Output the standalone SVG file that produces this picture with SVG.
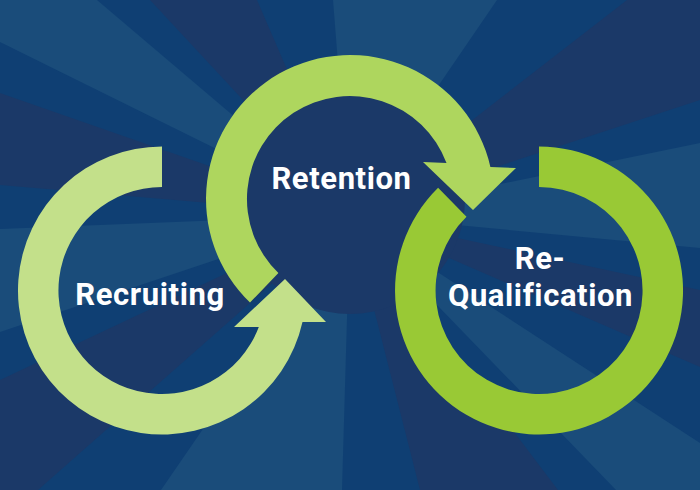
<svg xmlns="http://www.w3.org/2000/svg" width="700" height="490" viewBox="0 0 700 490">
  <style>
    .L { fill: #1a4c7a; }
    .D { fill: #1b3968; }
    .label { fill: #ffffff; font-family: Roboto, "Liberation Sans", sans-serif; font-weight: 700; font-size: 31px; letter-spacing: 0.6px; text-anchor: middle; }
  </style>
  <g id="background">
    <rect x="0" y="0" width="700" height="490" fill="#0f3f73"/>
    <polygon class="D" points="350,215 150,0 257,0"/>
    <polygon class="L" points="350,215 333,0 497,0"/>
    <polygon class="D" points="350,215 627,0 700,0 700,100"/>
    <polygon class="L" points="350,215 700,143 700,248"/>
    <polygon class="D" points="350,215 700,290 700,367"/>
    <polygon class="L" points="350,215 700,443 700,490 616,490"/>
    <polygon class="D" points="350,215 558,490 420,490"/>
    <polygon class="L" points="350,215 342,490 161,490"/>
    <polygon class="D" points="350,215 38,490 0,490 0,380"/>
    <polygon class="L" points="350,215 0,332 0,229"/>
    <polygon class="D" points="350,215 0,185 0,93"/>
    <polygon class="L" points="350,215 0,42 0,0 97,0"/>
    <circle class="D" cx="350" cy="199" r="115"/>
  </g>
  <g id="node-recruiting">
    <path fill="#c3e08a" d="M 162 146.5 A 144 144 0 1 0 302.5 322 L 326 322 L 285 279 L 234 327 L 258.8 327 A 103.5 103.5 0 1 1 162 187 Z"/>
    <text class="label" x="150" y="305">Recruiting</text>
  </g>
  <g id="node-retention">
    <path fill="#aed65e" d="M 250 302.6 A 144 144 0 1 1 490.4 166.9 L 516 168 L 473 210 L 423 162 L 446.5 163.1 A 103 103 0 1 0 278.4 273.1 Z"/>
    <text class="label" x="341.5" y="189">Retention</text>
  </g>
  <g id="node-requalification">
    <path fill="#99c935" d="M 539 146.5 A 144 144 0 1 1 438.1 187.8 L 466.5 216.7 A 103.5 103.5 0 1 0 539 187 Z"/>
    <text class="label"><tspan x="540" y="269">Re-</tspan><tspan x="540.5" y="306">Qualification</tspan></text>
  </g>
  <g id="connectors"/>
</svg>
